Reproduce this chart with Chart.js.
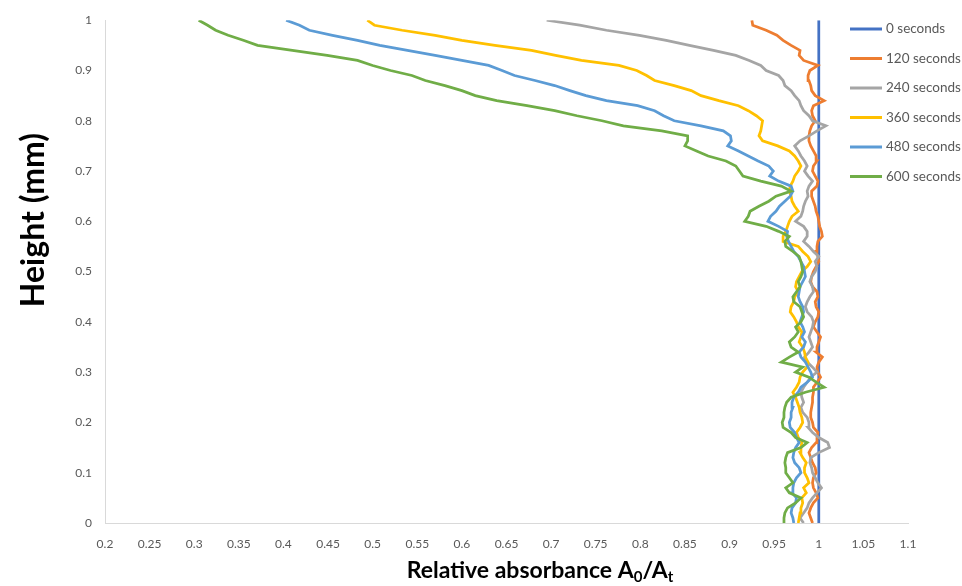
<!DOCTYPE html>
<html>
<head>
<meta charset="utf-8">
<title>Relative absorbance profiles</title>
<script src="https://cdn.jsdelivr.net/npm/chart.js@4.4.1/dist/chart.umd.min.js"></script>
<style>
  html, body { margin: 0; padding: 0; background: #ffffff; }
  #wrap { width: 962px; height: 586px; position: relative; }
</style>
</head>
<body>
<div id="wrap"><canvas id="chart" width="962" height="586"></canvas></div>
<script>
// Sampling heights (mm) shared by every measured profile
const heights = [
  0.00, 0.01, 0.02, 0.03, 0.04, 0.05, 0.06, 0.07, 0.08, 0.09,
  0.10, 0.11, 0.12, 0.13, 0.14, 0.15, 0.16, 0.17, 0.18, 0.19,
  0.20, 0.21, 0.22, 0.23, 0.24, 0.25, 0.26, 0.27, 0.28, 0.29,
  0.30, 0.31, 0.32, 0.33, 0.34, 0.35, 0.36, 0.37, 0.38, 0.39,
  0.40, 0.41, 0.42, 0.43, 0.44, 0.45, 0.46, 0.47, 0.48, 0.49,
  0.50, 0.51, 0.52, 0.53, 0.54, 0.55, 0.56, 0.57, 0.58, 0.59,
  0.60, 0.61, 0.62, 0.63, 0.64, 0.65, 0.66, 0.67, 0.68, 0.69,
  0.70, 0.71, 0.72, 0.73, 0.74, 0.75, 0.76, 0.77, 0.78, 0.79,
  0.80, 0.81, 0.82, 0.83, 0.84, 0.85, 0.86, 0.87, 0.88, 0.89,
  0.90, 0.91, 0.92, 0.93, 0.94, 0.95, 0.96, 0.97, 0.98, 0.99,
  1.00
];

// Reference profile at t = 0 (A0/At = 1 everywhere)
const heights0s = [0, 1];
const abs0s = [1, 1];

// Relative absorbance A0/At, listed from height 0 up to height 1
const abs120s = [
  0.993, 0.991, 0.989, 0.991, 0.994, 0.999, 0.997, 0.994, 0.993, 0.994,
  0.997, 0.996, 0.993, 0.991, 0.989, 0.992, 0.997, 0.998, 0.999, 0.994,
  0.993, 0.991, 0.991, 0.992, 0.993, 0.993, 0.994, 0.994, 0.998, 1.002,
  0.999, 0.998, 1.000, 1.004, 0.997, 0.998, 1.000, 1.002, 0.998, 0.994,
  0.996, 0.999, 1.000, 0.997, 0.996, 0.999, 0.998, 0.993, 0.991, 0.992,
  0.994, 0.997, 1.000, 0.999, 0.997, 0.998, 0.999, 1.004, 1.003, 1.001,
  1.000, 0.999, 0.997, 0.996, 0.994, 0.992, 0.992, 0.998, 0.999, 0.996,
  0.993, 0.994, 0.998, 0.997, 0.994, 0.991, 0.989, 0.989, 0.990, 0.992,
  0.996, 0.993, 0.992, 0.994, 1.006, 0.996, 0.992, 0.991, 0.989, 0.988,
  0.990, 0.999, 0.983, 0.978, 0.979, 0.969, 0.960, 0.953, 0.941, 0.926,
  0.925
];

const abs240s = [
  0.983, 0.979, 0.983, 0.987, 0.989, 0.993, 0.998, 1.003, 0.999, 0.996,
  0.993, 0.992, 0.990, 0.991, 1.000, 1.012, 1.010, 1.000, 0.993, 0.988,
  0.989, 0.987, 0.982, 0.980, 0.983, 0.981, 0.980, 0.983, 0.987, 0.991,
  0.998, 0.993, 0.987, 0.984, 0.989, 0.993, 0.991, 0.989, 0.991, 0.993,
  0.994, 0.992, 0.987, 0.985, 0.987, 0.990, 0.994, 0.993, 0.990, 0.992,
  0.996, 0.998, 0.996, 1.000, 0.994, 0.989, 0.983, 0.987, 0.987, 0.983,
  0.974, 0.980, 0.982, 0.983, 0.985, 0.988, 0.987, 0.989, 0.993, 0.988,
  0.984, 0.987, 0.984, 0.980, 0.977, 0.973, 0.979, 0.989, 0.998, 1.008,
  0.993, 0.989, 0.983, 0.980, 0.978, 0.973, 0.969, 0.962, 0.960, 0.955,
  0.941, 0.935, 0.922, 0.907, 0.882, 0.855, 0.829, 0.799, 0.762, 0.732,
  0.695
];

const abs360s = [
  0.977, 0.978, 0.979, 0.980, 0.982, 0.981, 0.986, 0.983, 0.989, 0.987,
  0.984, 0.984, 0.986, 0.982, 0.979, 0.980, 0.981, 0.977, 0.975, 0.979,
  0.982, 0.981, 0.979, 0.978, 0.976, 0.974, 0.971, 0.975, 0.978, 0.979,
  0.982, 0.987, 0.988, 0.985, 0.984, 0.982, 0.978, 0.980, 0.981, 0.977,
  0.975, 0.972, 0.968, 0.969, 0.972, 0.973, 0.977, 0.974, 0.975, 0.978,
  0.981, 0.987, 0.991, 0.988, 0.982, 0.977, 0.960, 0.960, 0.963, 0.965,
  0.967, 0.970, 0.977, 0.973, 0.970, 0.969, 0.967, 0.968, 0.971, 0.973,
  0.977, 0.980, 0.977, 0.973, 0.967, 0.954, 0.937, 0.933, 0.935, 0.936,
  0.937, 0.930, 0.921, 0.910, 0.888, 0.868, 0.857, 0.838, 0.816, 0.807,
  0.796, 0.776, 0.734, 0.705, 0.678, 0.637, 0.600, 0.570, 0.533, 0.502,
  0.494
];

const abs480s = [
  0.972, 0.971, 0.969, 0.970, 0.974, 0.975, 0.970, 0.971, 0.972, 0.975,
  0.980, 0.978, 0.973, 0.971, 0.972, 0.974, 0.978, 0.975, 0.973, 0.968,
  0.967, 0.969, 0.969, 0.971, 0.970, 0.972, 0.977, 0.980, 0.987, 0.993,
  0.991, 0.988, 0.985, 0.980, 0.978, 0.983, 0.985, 0.981, 0.984, 0.982,
  0.979, 0.981, 0.983, 0.982, 0.979, 0.977, 0.978, 0.979, 0.982, 0.985,
  0.984, 0.983, 0.980, 0.977, 0.972, 0.969, 0.966, 0.964, 0.965, 0.955,
  0.943, 0.946, 0.952, 0.956, 0.962, 0.968, 0.971, 0.969, 0.955, 0.945,
  0.949, 0.944, 0.932, 0.921, 0.910, 0.898, 0.902, 0.901, 0.893, 0.868,
  0.838, 0.826, 0.816, 0.797, 0.762, 0.739, 0.721, 0.704, 0.682, 0.659,
  0.645, 0.630, 0.600, 0.570, 0.539, 0.508, 0.483, 0.455, 0.429, 0.418,
  0.403
];

const abs600s = [
  0.960, 0.961, 0.962, 0.965, 0.974, 0.980, 0.967, 0.963, 0.971, 0.967,
  0.963, 0.963, 0.962, 0.963, 0.965, 0.980, 0.987, 0.974, 0.969, 0.960,
  0.959, 0.961, 0.961, 0.962, 0.964, 0.969, 0.985, 1.006, 0.997, 0.989,
  0.974, 0.982, 0.958, 0.967, 0.977, 0.969, 0.967, 0.973, 0.977, 0.974,
  0.980, 0.983, 0.981, 0.979, 0.972, 0.971, 0.975, 0.979, 0.977, 0.980,
  0.982, 0.981, 0.980, 0.978, 0.971, 0.963, 0.962, 0.967, 0.955, 0.941,
  0.917, 0.921, 0.923, 0.933, 0.944, 0.952, 0.969, 0.958, 0.935, 0.915,
  0.911, 0.907, 0.896, 0.876, 0.863, 0.850, 0.853, 0.853, 0.824, 0.781,
  0.757, 0.729, 0.704, 0.673, 0.639, 0.615, 0.600, 0.581, 0.559, 0.544,
  0.520, 0.500, 0.483, 0.449, 0.410, 0.371, 0.355, 0.338, 0.324, 0.315,
  0.305
];

const seriesLabels = ['0 seconds', '120 seconds', '240 seconds', '360 seconds', '480 seconds', '600 seconds'];
const seriesColors = ['#4472C4', '#ED7D31', '#A5A5A5', '#FFC000', '#5B9BD5', '#70AD47'];

const xTickValues = [0.2, 0.25, 0.3, 0.35, 0.4, 0.45, 0.5, 0.55, 0.6, 0.65, 0.7, 0.75, 0.8, 0.85, 0.9, 0.95, 1, 1.05, 1.1];
const xTickLabels = ['0.2', '0.25', '0.3', '0.35', '0.4', '0.45', '0.5', '0.55', '0.6', '0.65', '0.7', '0.75', '0.8', '0.85', '0.9', '0.95', '1', '1.05', '1.1'];
const yTickValues = [0, 0.1, 0.2, 0.3, 0.4, 0.5, 0.6, 0.7, 0.8, 0.9, 1];
const yTickLabels = ['0', '0.1', '0.2', '0.3', '0.4', '0.5', '0.6', '0.7', '0.8', '0.9', '1'];

const yTitle = 'Height (mm)';
const xTitleParts = [['Relative absorbance A', false], ['0', true], ['/A', false], ['t', true]];

// Build {x, y} profile points: x = relative absorbance, y = height
function profile(values, hs) {
  return values.map((v, i) => ({ x: v, y: hs[i] }));
}

const profiles = [
  profile(abs0s, heights0s),
  profile(abs120s, heights),
  profile(abs240s, heights),
  profile(abs360s, heights),
  profile(abs480s, heights),
  profile(abs600s, heights)
];

const datasets = profiles.map((pts, i) => ({
  label: seriesLabels[i],
  data: pts,
  borderColor: seriesColors[i],
  backgroundColor: seriesColors[i],
  borderWidth: 2.75,
  showLine: true,
  pointRadius: 0,
  tension: 0,
  order: profiles.length - 1 - i   // later series drawn on top
}));

const TICK_COLOR = '#595959';
const TICK_FONT = { family: 'Lato, "Open Sans", sans-serif', size: 12 };

// Axis titles and the legend drawn over the plot
const overlay = {
  id: 'overlay',
  afterDraw(chart) {
    const ctx = chart.ctx;

    // Vertical axis title
    ctx.save();
    ctx.fillStyle = '#000000';
    ctx.font = 'bold 32px Lato, "Open Sans", sans-serif';
    ctx.translate(34, 220);
    ctx.rotate(-Math.PI / 2);
    ctx.textAlign = 'center';
    ctx.textBaseline = 'middle';
    ctx.fillText(yTitle, 0, 0);
    ctx.restore();

    // Horizontal axis title with subscripts
    ctx.save();
    ctx.fillStyle = '#000000';
    ctx.textBaseline = 'alphabetic';
    const mainFont = 'bold 23px Lato, "Open Sans", sans-serif';
    const subFont = 'bold 15px Lato, "Open Sans", sans-serif';
    let total = 0;
    const widths = xTitleParts.map(([txt, sub]) => {
      ctx.font = sub ? subFont : mainFont;
      const w = ctx.measureText(txt).width;
      total += w;
      return w;
    });
    let x = 540 - total / 2;
    const base = 578;
    xTitleParts.forEach(([txt, sub], i) => {
      ctx.font = sub ? subFont : mainFont;
      ctx.fillText(txt, x, sub ? base + 4 : base);
      x += widths[i];
    });
    ctx.restore();

    // Legend
    ctx.save();
    ctx.font = '13.5px Lato, "Open Sans", sans-serif';
    ctx.textBaseline = 'middle';
    ctx.textAlign = 'left';
    chart.data.datasets.forEach((ds, i) => {
      const y = 29 + i * 29.5;
      ctx.strokeStyle = ds.borderColor;
      ctx.lineWidth = 3;
      ctx.beginPath();
      ctx.moveTo(850, y);
      ctx.lineTo(882, y);
      ctx.stroke();
      ctx.fillStyle = TICK_COLOR;
      ctx.fillText(ds.label, 886, y);
    });
    ctx.restore();
  }
};

new Chart(document.getElementById('chart'), {
  type: 'scatter',
  data: { datasets },
  plugins: [overlay],
  options: {
    responsive: false,
    animation: false,
    layout: { padding: { left: 0, right: 54, top: 15, bottom: 0 } },
    plugins: {
      legend: { display: false },
      tooltip: { enabled: false }
    },
    scales: {
      x: {
        type: 'linear',
        min: 0.2,
        max: 1.1,
        grid: { display: false, drawTicks: false },
        border: { display: true, color: '#d9d9d9', width: 1 },
        afterBuildTicks: (scale) => { scale.ticks = xTickValues.map(v => ({ value: v })); },
        ticks: {
          autoSkip: false,
          maxRotation: 0,
          padding: 14,
          color: TICK_COLOR,
          font: TICK_FONT,
          callback: (v, i) => xTickLabels[i]
        },
        afterFit: (scale) => { scale.height = 63; }
      },
      y: {
        type: 'linear',
        min: 0,
        max: 1,
        grid: { display: false, drawTicks: false },
        border: { display: true, color: '#d9d9d9', width: 1 },
        afterBuildTicks: (scale) => { scale.ticks = yTickValues.map(v => ({ value: v })); },
        ticks: {
          autoSkip: false,
          padding: 13,
          color: TICK_COLOR,
          font: TICK_FONT,
          callback: (v, i) => yTickLabels[i]
        },
        afterFit: (scale) => { scale.width = 105; }
      }
    }
  }
});
</script>
</body>
</html>
